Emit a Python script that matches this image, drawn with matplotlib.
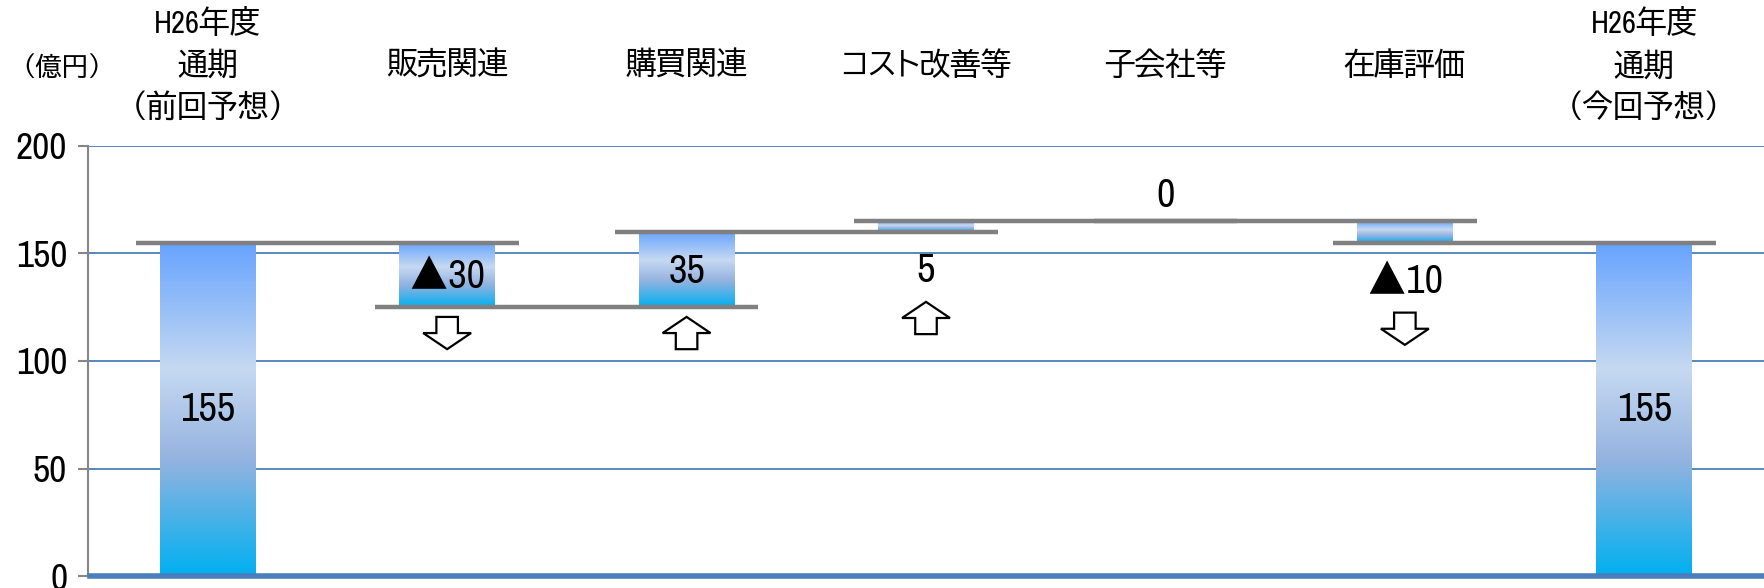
import numpy as np
import matplotlib
matplotlib.use("Agg")
import matplotlib.pyplot as plt
from matplotlib.colors import LinearSegmentedColormap
from matplotlib.patches import FancyArrow
import matplotlib.transforms as mtransforms

# ---------------- data ----------------
categories = ["H26年度\n通期\n（前回予想）", "販売関連", "購買関連", "コスト改善等",
              "子会社等", "在庫評価", "H26年度\n通期\n（今回予想）"]
start_value = 155
changes = [-30, 35, 5, 0, -10]
end_value = 155
total_labels = ["155", "155"]
change_labels = ["▲30", "35", "5", "0", "▲10"]
label_places = ["center", "center", "below", "above", "below"]
yticks = [0, 50, 100, 150, 200]
unit_label = "（億円）"

# ---------------- derived ----------------
levels = [start_value]
for c in changes:
    levels.append(levels[-1] + c)
n = len(categories)
bottoms = [0] + [min(levels[i], levels[i + 1]) for i in range(len(changes))] + [0]
tops = [start_value] + [max(levels[i], levels[i + 1]) for i in range(len(changes))] + [end_value]

NUM_FONT = ["Archivo Narrow", "BIZ UDPGothic", "Noto Sans CJK JP", "DejaVu Sans"]
CJK_FONT = ["BIZ UDPGothic", "Noto Sans CJK JP", "DejaVu Sans"]

fig = plt.figure(figsize=(17.64, 5.88), dpi=100)
ax = fig.add_axes([88 / 1764, 12 / 588, 1 - 88 / 1764, 430 / 588])
ax.set_xlim(-0.5, n - 0.5)
ax.set_ylim(0, 200)

cmap = LinearSegmentedColormap.from_list(
    "grad", [(0.0, "#00B0F0"), (0.35, "#95B3E0"), (0.62, "#C6D9F1"), (1.0, "#66A3FF")])
grad = np.linspace(0, 1, 256).reshape(-1, 1)

bar_w = 0.4
heights = [t - b for t, b in zip(tops, bottoms)]
bars = ax.bar(range(n), heights, bottom=bottoms, width=bar_w,
              facecolor="none", edgecolor="none", zorder=2)
for i, rect in enumerate(bars):
    if heights[i] <= 0:
        continue
    im = ax.imshow(grad, extent=[i - bar_w / 2, i + bar_w / 2, bottoms[i], tops[i]],
                   aspect="auto", cmap=cmap, origin="lower", zorder=2,
                   interpolation="bilinear")
    im.set_clip_path(rect)

ax.set_xlim(-0.5, n - 0.5)
ax.set_ylim(0, 200)

# connector lines
for i, lv in enumerate(levels):
    ax.plot([i - 0.3, i + 1.3], [lv, lv], color="#808080", lw=3.2,
            solid_capstyle="butt", zorder=3)

# grid and spines
ax.set_yticks(yticks)
ax.yaxis.grid(True, color="#4A7EBB", lw=1.3, zorder=0)
ax.set_axisbelow(True)
ax.set_xticks([])
for s in ["top", "right"]:
    ax.spines[s].set_visible(False)
ax.spines["left"].set_color("#868686")
ax.spines["left"].set_linewidth(1.5)
ax.spines["bottom"].set_color("#4A7EBB")
ax.spines["bottom"].set_linewidth(4)
ax.spines["bottom"].set_bounds(-0.49, n - 0.5)
ax.tick_params(axis="y", direction="out", length=7, width=1.5, color="#868686",
               pad=8, labelsize=27)
for lab in ax.get_yticklabels():
    lab.set_fontfamily(NUM_FONT)

# total labels
for idx, txt in zip([0, n - 1], total_labels):
    ax.text(idx, (bottoms[idx] + tops[idx]) / 2, txt, ha="center", va="center",
            fontsize=29, family=NUM_FONT, zorder=5)

# change labels and arrows
for k, (c, txt, place) in enumerate(zip(changes, change_labels, label_places)):
    i = k + 1
    b, t = bottoms[i], tops[i]
    if place == "center":
        ly = (b + t) / 2 - 1
        acy = b - 12
    elif place == "below":
        ly = b - 18
        acy = ly - 22
    else:
        ly = t + 12
        acy = None
    ax.text(i, ly, txt, ha="center", va="center", fontsize=29, family=NUM_FONT, zorder=5)
    if acy is not None and c != 0:
        L = 15
        if c > 0:
            y0, dy = acy - L / 2, L
        else:
            y0, dy = acy + L / 2, -L
        arr = FancyArrow(i, y0, 0, dy, width=0.09, head_width=0.2, head_length=7.5,
                         length_includes_head=True, facecolor="white",
                         edgecolor="black", lw=1.6, zorder=5)
        ax.add_patch(arr)

# category labels
trans = mtransforms.blended_transform_factory(ax.transData, ax.transAxes)
for i, cat in enumerate(categories):
    ax.text(i, 1 + (146 - 65) / 430, cat, transform=trans, ha="center", va="center",
            fontsize=22, family=NUM_FONT, linespacing=1.5)

fig.text(62 / 1764, 1 - 67 / 588, unit_label, ha="center", va="center",
         fontsize=19, family=CJK_FONT)

fig.savefig("out.png", dpi=100)
